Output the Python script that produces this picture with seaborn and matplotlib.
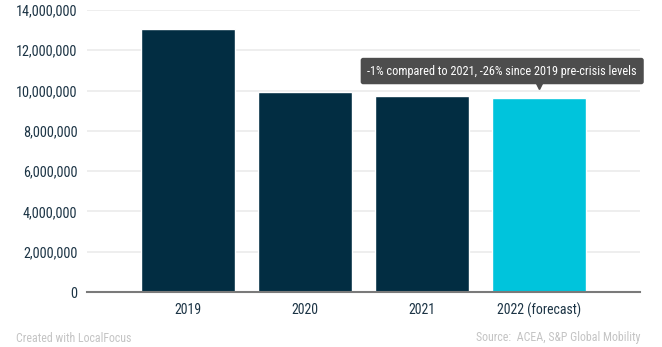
import matplotlib
matplotlib.use("Agg")
import matplotlib.pyplot as plt
import seaborn as sns
import pandas as pd
from matplotlib.ticker import FuncFormatter

categories = ["2019", "2020", "2021", "2022 (forecast)"]
values = [13060000, 9930000, 9730000, 9630000]
bar_colors = ["#022d42", "#022d42", "#022d42", "#00c4dc"]
y_ticks = [0, 2000000, 4000000, 6000000, 8000000, 10000000, 12000000, 14000000]
note = "-1% compared to 2021, -26% since 2019 pre-crisis levels"

sns.set_theme(style="white")
plt.rcParams["font.family"] = ["Roboto Condensed", "Roboto", "DejaVu Sans"]

df = pd.DataFrame({"year": categories, "value": values})

fig = plt.figure(figsize=(6.62, 3.47), dpi=100)
ax = fig.add_axes([87/662, 1-292/347, (640-87)/662, (292-10)/347])
sns.barplot(data=df, x="year", y="value", hue="year", palette=bar_colors,
            width=0.8, saturation=1, legend=False, ax=ax, zorder=3)
ax.set_xlim(-0.86, 3.86)
ax.set_ylim(0, 14000000)
ax.set_yticks(y_ticks)
ax.yaxis.set_major_formatter(FuncFormatter(lambda v, p: f"{int(v):,}"))
ax.grid(axis="y", color="#ebebeb", linewidth=1.2, zorder=0)
ax.set_axisbelow(True)
for s in ["top", "right", "left"]:
    ax.spines[s].set_visible(False)
ax.spines["bottom"].set_color("#7a7a7a")
ax.spines["bottom"].set_linewidth(1.5)
ax.spines["bottom"].set_zorder(4)
ax.tick_params(axis="y", length=0, labelsize=10.3, colors="#1c3445", pad=7)
ax.tick_params(axis="x", length=0, labelsize=10, colors="#1c3445", pad=8)
ax.set_xlabel("")
ax.set_ylabel("")

# tooltip
ax.text(2.684, 10970000, note, ha="center", va="center", color="white", fontsize=8.8,
        bbox=dict(boxstyle="round,pad=0.55,rounding_size=0.2", fc="#4d4d4d", ec="none"),
        zorder=6, clip_on=False)
ax.plot([3], [10300000], marker="v", markersize=6, color="#4d4d4d", zorder=6, clip_on=False)

fig.text(16/662, 1-338/347, "Created with LocalFocus", color="#c4c4c4", fontsize=8.6, ha="left", va="center")
fig.text(640/662, 1-338/347, "Source:  ACEA, S&P Global Mobility", color="#c4c4c4", fontsize=8.6, ha="right", va="center")

fig.savefig("out.png", dpi=100)
